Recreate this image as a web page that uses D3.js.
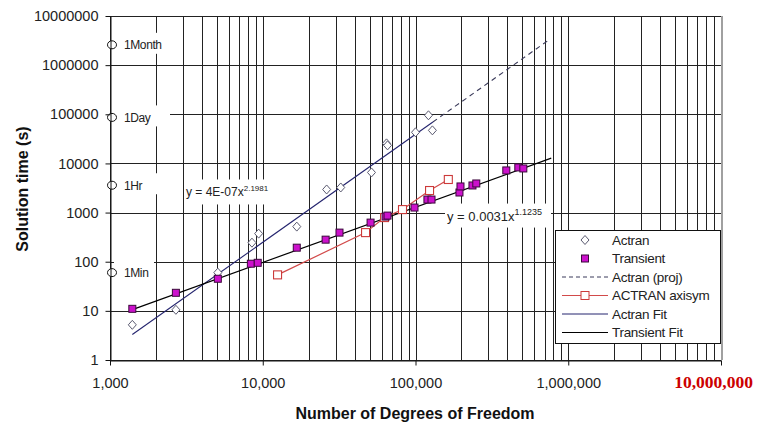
<!DOCTYPE html>
<html>
<head>
<meta charset="utf-8">
<script src="https://cdn.jsdelivr.net/npm/d3@7"></script>
<style>
  body { margin: 0; background: #fff; }
  text { font-family: "Liberation Sans", Arial, sans-serif; }
</style>
</head>
<body>
<script>
// data
const actranDof  = [1400, 2700, 5080, 8500, 9400, 16700, 26200, 32400, 51500, 64600, 65600, 100000, 121600, 129000];
const actranTime = [5.2, 10.5, 60, 244, 373, 518, 2950, 3240, 6550, 25600, 23300, 43000, 95400, 47100];

const transDof  = [1400, 2700, 5080, 8360, 9270, 16700, 25800, 31800, 50800, 63700, 65600, 98500, 119700, 127300, 194000, 197000, 236000, 250000, 393000, 471000, 508000];
const transTime = [11, 23.3, 45, 91, 95, 193, 281, 391, 625, 829, 868, 1265, 1840, 1840, 2560, 3400, 3560, 3910, 7200, 8290, 7900];

const axiDof  = [12500, 47100, 62700, 82200, 123600, 164000];
const axiTime = [54, 391, 791, 1150, 2810, 4710];

// trendline equations as printed on the chart
const actranFit = { a: 4e-7, b: 2.1981, from: 1400, to: 130000, projTo: 730000 };
const transFit  = { a: 0.0031, b: 1.1235, from: 1400, to: 774000 };

const timeMarks  = [60, 3600, 86400, 2592000];
const timeLabels = ['1Min', '1Hr', '1Day', '1Month'];

const xTicks = [1e3, 1e4, 1e5, 1e6, 1e7];
const yTicks = [1, 10, 100, 1000, 1e4, 1e5, 1e6, 1e7];
const legendLabels = ['Actran', 'Transient', 'Actran (proj)', 'ACTRAN axisym', 'Actran Fit', 'Transient Fit'];

const width = 759, height = 424;
const plotL = 110, plotR = 721, plotT = 16, plotB = 360;

const svg = d3.select('body').append('svg')
  .attr('width', width)
  .attr('height', height);

const x = d3.scaleLog().domain([1e3, 1e7]).range([plotL, plotR]);
const y = d3.scaleLog().domain([1, 1e7]).range([plotB, plotT]);

// grid: every 1..9 on x, decades only on y
const xGrid = [];
for (let p = 3; p < 7; p++) for (let k = 1; k < 10; k++) xGrid.push(k * Math.pow(10, p));
xGrid.push(1e7);

svg.append('g').selectAll('line').data(xGrid).enter().append('line')
  .attr('x1', d => Math.round(x(d)) + 0.5).attr('x2', d => Math.round(x(d)) + 0.5)
  .attr('y1', plotT).attr('y2', plotB)
  .attr('stroke', '#222');

svg.append('g').selectAll('line').data(yTicks).enter().append('line')
  .attr('x1', plotL).attr('x2', plotR)
  .attr('y1', d => Math.round(y(d)) + 0.5).attr('y2', d => Math.round(y(d)) + 0.5)
  .attr('stroke', '#222');

svg.append('line')
  .attr('x1', plotR + 1).attr('x2', plotR + 1).attr('y1', plotT).attr('y2', plotB)
  .attr('stroke', '#a0a0a0').attr('stroke-width', 2);

// white boxes behind the annotation texts (they hide the grid)
const boxW = [40, 50, 56, 68];
const markGroup = svg.append('g');
markGroup.selectAll('rect').data(timeMarks).enter().append('rect')
  .attr('x', x(1e3) + 4)
  .attr('y', d => y(d) - 12)
  .attr('width', (d, i) => boxW[i])
  .attr('height', 21)
  .attr('fill', '#fff');

const eq1 = { x: 186, y: y(Math.pow(10, 3.45)) };
const eq2 = { x: 445, y: y(Math.pow(10, 3.0)) };
svg.append('rect').attr('x', eq1.x).attr('y', eq1.y - 11).attr('width', 90).attr('height', 25).attr('fill', '#fff');
svg.append('rect').attr('x', eq2.x).attr('y', eq2.y - 9).attr('width', 106).attr('height', 24).attr('fill', '#fff');

// axes
const xAxis = d3.axisBottom(x).tickValues(xTicks).tickSize(5).tickSizeOuter(0).tickPadding(12)
  .tickFormat(d3.format(','));
const yAxis = d3.axisLeft(y).tickValues(yTicks).tickSize(5).tickSizeOuter(0).tickPadding(7)
  .tickFormat(d3.format('d'));

const gx = svg.append('g').attr('transform', `translate(0, ${plotB + 0.5})`).call(xAxis);
const gy = svg.append('g').attr('transform', `translate(${plotL + 0.5}, 0)`).call(yAxis);

[gx, gy].forEach(g => {
  g.selectAll('path, line').attr('stroke', '#111');
  g.selectAll('text').attr('fill', '#222').style('font-size', '14.5px')
    .style('font-family', '"Liberation Sans", Arial, sans-serif');
});
gx.selectAll('text').filter(d => d === 1e7)
  .attr('fill', '#cc0000')
  .style('font-family', '"Liberation Serif", "Times New Roman", serif')
  .style('font-weight', 'bold')
  .style('font-size', '17.5px')
  .attr('dx', -8)
  .attr('dy', '0.62em');

// fit lines (power laws are straight on log-log)
const line = d3.line().x(d => x(d[0])).y(d => y(d[1]));
const fitPts = (f, a, b) => [a, b].map(v => [v, f.a * Math.pow(v, f.b)]);

svg.append('path').attr('d', line(fitPts(actranFit, actranFit.to, actranFit.projTo)))
  .attr('fill', 'none').attr('stroke', '#3a3a5a').attr('stroke-width', 1.1).attr('stroke-dasharray', '5,4');
svg.append('path').attr('d', line(fitPts(actranFit, actranFit.from, actranFit.to)))
  .attr('fill', 'none').attr('stroke', '#24246e').attr('stroke-width', 1.1);
svg.append('path').attr('d', line(fitPts(transFit, transFit.from, transFit.to)))
  .attr('fill', 'none').attr('stroke', '#000').attr('stroke-width', 1.2);

// ACTRAN axisym
const axiPts = axiDof.map((d, i) => [d, axiTime[i]]);
svg.append('path').attr('d', line(axiPts))
  .attr('fill', 'none').attr('stroke', '#d24a4a').attr('stroke-width', 1.2);

const diamond = (cx, cy) => `M${cx},${cy - 4.5}L${cx + 4},${cy}L${cx},${cy + 4.5}L${cx - 4},${cy}Z`;

svg.append('g').selectAll('path').data(actranDof).enter().append('path')
  .attr('d', (d, i) => diamond(x(d), y(actranTime[i])))
  .attr('fill', '#fff').attr('stroke', '#5a5a70').attr('stroke-width', 1);

svg.append('g').selectAll('rect').data(axiPts).enter().append('rect')
  .attr('x', d => x(d[0]) - 4).attr('y', d => y(d[1]) - 4)
  .attr('width', 8).attr('height', 8)
  .attr('fill', '#fff').attr('stroke', '#cc3a3a').attr('stroke-width', 1.1);

svg.append('g').selectAll('rect').data(transDof).enter().append('rect')
  .attr('x', d => x(d) - 3.5).attr('y', (d, i) => y(transTime[i]) - 3.5)
  .attr('width', 7).attr('height', 7)
  .attr('fill', '#cc11cc').attr('stroke', '#3a0a3a').attr('stroke-width', 1);

// time reference markers on the y axis
markGroup.selectAll('ellipse').data(timeMarks).enter().append('ellipse')
  .attr('cx', x(1e3) + 2).attr('cy', d => y(d))
  .attr('rx', 4.5).attr('ry', 4)
  .attr('fill', '#fff').attr('stroke', '#111');
markGroup.selectAll('text').data(timeMarks).enter().append('text')
  .attr('x', x(1e3) + 14).attr('y', d => y(d))
  .attr('dy', '0.36em')
  .style('font-size', '12px').attr('fill', '#222')
  .style('letter-spacing', '-0.4px')
  .text((d, i) => timeLabels[i]);

// equations
const t1 = svg.append('text').attr('x', eq1.x).attr('y', eq1.y + 6).style('font-size', '12px').attr('fill', '#222');
t1.append('tspan').text('y = 4E-07x');
t1.append('tspan').attr('dy', -5).style('font-size', '8px').text('2.1981');

const t2 = svg.append('text').attr('x', eq2.x + 2).attr('y', eq2.y + 8).style('font-size', '13px').attr('fill', '#222');
t2.append('tspan').text('y = 0.0031x');
t2.append('tspan').attr('dy', -6).style('font-size', '9px').text('1.1235');

// legend
const lg = svg.append('g');
lg.append('rect').attr('x', 555.5).attr('y', 230.5).attr('width', 165).attr('height', 113)
  .attr('fill', '#fff').attr('stroke', '#111');
const ly = i => 240 + i * 18.5;
const lx0 = 562, lx1 = 608, lmid = 585;

lg.append('path').attr('d', diamond(lmid, ly(0))).attr('fill', '#fff').attr('stroke', '#5a5a70');
lg.append('rect').attr('x', lmid - 3.5).attr('y', ly(1) - 3.5).attr('width', 7).attr('height', 7)
  .attr('fill', '#cc11cc').attr('stroke', '#3a0a3a');
lg.append('line').attr('x1', lx0).attr('x2', lx1).attr('y1', ly(2)).attr('y2', ly(2))
  .attr('stroke', '#3a3a5a').attr('stroke-dasharray', '4,3');
lg.append('line').attr('x1', lx0).attr('x2', lx1).attr('y1', ly(3)).attr('y2', ly(3))
  .attr('stroke', '#d24a4a').attr('stroke-width', 1.2);
lg.append('rect').attr('x', lmid - 4).attr('y', ly(3) - 4).attr('width', 8).attr('height', 8)
  .attr('fill', '#fff').attr('stroke', '#cc3a3a');
lg.append('line').attr('x1', lx0).attr('x2', lx1).attr('y1', ly(4)).attr('y2', ly(4))
  .attr('stroke', '#24246e');
lg.append('line').attr('x1', lx0).attr('x2', lx1).attr('y1', ly(5)).attr('y2', ly(5))
  .attr('stroke', '#000');

lg.selectAll('text').data(legendLabels).enter().append('text')
  .attr('x', 612).attr('y', (d, i) => ly(i))
  .attr('dy', '0.36em')
  .style('font-size', '13.5px').attr('fill', '#222')
  .style('letter-spacing', '-0.3px')
  .text(d => d);

// axis titles
svg.append('text')
  .attr('x', 415).attr('y', 419)
  .attr('text-anchor', 'middle')
  .style('font-size', '16px').style('font-weight', 'bold').attr('fill', '#111')
  .text('Number of Degrees of Freedom');

svg.append('text')
  .attr('transform', 'translate(28, 189) rotate(-90)')
  .attr('text-anchor', 'middle')
  .style('font-size', '16px').style('font-weight', 'bold').attr('fill', '#111')
  .text('Solution time (s)');
</script>
</body>
</html>
